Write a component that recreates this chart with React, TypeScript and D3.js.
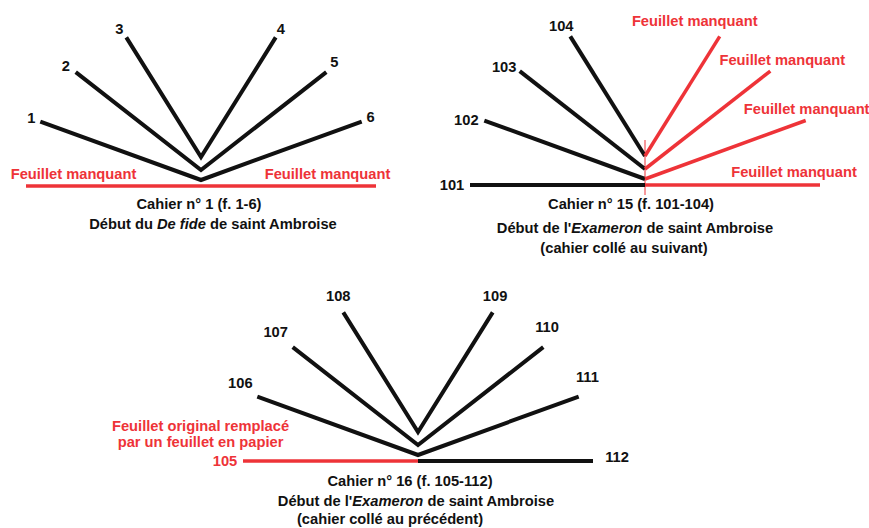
import React from 'react';
import * as d3 from 'd3';

// leaves from the outer (flat) sheet to the innermost one
const q1Left = ['Feuillet manquant', '1', '2', '3'];
const q1Right = ['Feuillet manquant', '6', '5', '4'];
const q1LeftState = ['missing', 'ok', 'ok', 'ok'];
const q1RightState = ['missing', 'ok', 'ok', 'ok'];

const q15Left = ['101', '102', '103', '104'];
const q15Right = ['Feuillet manquant', 'Feuillet manquant', 'Feuillet manquant', 'Feuillet manquant'];
const q15LeftState = ['ok', 'ok', 'ok', 'ok'];
const q15RightState = ['missing', 'missing', 'missing', 'missing'];

const q16Left = ['105', '106', '107', '108'];
const q16Right = ['112', '111', '110', '109'];
const q16LeftState = ['replaced', 'ok', 'ok', 'ok'];
const q16RightState = ['ok', 'ok', 'ok', 'ok'];

const titles = ['Cahier n° 1 (f. 1-6)', 'Cahier n° 15 (f. 101-104)', 'Cahier n° 16 (f. 105-112)'];
const works: [string, boolean][][] = [
  [['Début du ', false], ['De fide', true], [' de saint Ambroise', false]],
  [["Début de l'", false], ['Exameron', true], [' de saint Ambroise', false]],
  [["Début de l'", false], ['Exameron', true], [' de saint Ambroise', false]],
];
const notes = ['', '(cahier collé au suivant)', '(cahier collé au précédent)'];
const replacedNote = ['Feuillet original remplacé', 'par un feuillet en papier'];

// geometry of the nested sheets (degrees above horizontal, length, rise of the fold)
const levelAngle = [0, 20, 38, 58];
const levelLength = [175, 171, 159, 141];
const levelRise = [-6, 0, 10, 23];

const RED = '#ee3338';
const INK = '#111';
const FONT = "'Liberation Sans', Arial, sans-serif";
const FS = 14.7;

const quires = [
  { left: q1Left, right: q1Right, ls: q1LeftState, rs: q1RightState },
  { left: q15Left, right: q15Right, ls: q15LeftState, rs: q15RightState },
  { left: q16Left, right: q16Right, ls: q16LeftState, rs: q16RightState },
];

// layout
const origins: [number, number][] = [[201, 180], [645, 179], [418, 455]];
const nudges = [
  { left: [[47.5, -12], [-9, -4], [-10, -6], [-7, -9]], right: [[-48.5, -12], [9, -5], [8, -10], [5, -9]] },
  { left: [[-18, 0], [-18, -1], [-15.5, -4], [-9, -11]], right: [[-26, -13], [1, -12], [12, -11], [-25, -16]] },
  { left: [[-18, 0], [-17, -14], [-17, -15], [-5, -17]], right: [[24, -4], [8.7, -20], [3.7, -20], [2.4, -17]] },
];
const captionX = [[199, 213, 0], [631, 635, 624], [410, 416, 390]];
const captionY = [[209, 229, 0], [209, 233, 253], [486, 506, 524]];

const color = (s: string) => (s === 'ok' ? INK : RED);

const tip = (side: number, level: number): [number, number] => {
  const a = ((90 - levelAngle[level]) * Math.PI) / 180;
  const [x, y] = d3.pointRadial(side * a, levelLength[level]);
  return [x, y - levelRise[level]];
};

const line = d3.line();

const Quire: React.FC<{ qi: number }> = ({ qi }) => {
  const q = quires[qi];
  const [ox, oy] = origins[qi];
  const nd = nudges[qi];
  const items: React.ReactNode[] = [];
  levelAngle.forEach((_, lv) => {
    const fold: [number, number] = [0, -levelRise[lv]];
    const lt = tip(-1, lv);
    const rt = tip(1, lv);
    const lc = color(q.ls[lv]);
    const rc = color(q.rs[lv]);
    if (lc === rc) {
      items.push(
        <path key={`p${lv}`} d={line([lt, fold, rt]) || ''} fill="none" stroke={lc}
          strokeWidth={lc === RED ? 3.5 : 4} strokeLinejoin="miter" strokeMiterlimit={20} />
      );
    } else {
      items.push(
        <path key={`l${lv}`} d={line([lt, fold]) || ''} fill="none" stroke={lc} strokeWidth={lc === RED ? 3.5 : 4} />,
        <path key={`r${lv}`} d={line([fold, rt]) || ''} fill="none" stroke={rc} strokeWidth={rc === RED ? 3.5 : 4} />
      );
    }
    const lab = (txt: string, st: string, p: [number, number], n: number[], k: string) => (
      <text key={k} x={p[0] + n[0]} y={p[1] + n[1] + FS * 0.36} textAnchor="middle"
        fill={color(st)} fontFamily={FONT} fontWeight="bold" fontSize={FS}>{txt}</text>
    );
    items.push(lab(q.left[lv], q.ls[lv], lt, nd.left[lv], `tl${lv}`));
    items.push(lab(q.right[lv], q.rs[lv], rt, nd.right[lv], `tr${lv}`));
    if (q.ls[lv] === 'replaced') {
      replacedNote.forEach((t, i) => {
        items.push(
          <text key={`n${i}`} x={lt[0] + nd.left[lv][0] - 24.5} y={lt[1] - 35.5 + i * 16 + FS * 0.36}
            textAnchor="middle" fill={RED} fontFamily={FONT} fontWeight="bold" fontSize={FS}>{t}</text>
        );
      });
    }
  });
  return (
    <g transform={`translate(${ox},${oy})`}>
      {qi === 1 && <line x1={0} x2={0} y1={-39} y2={16} stroke={RED} strokeWidth={1} />}
      {items}
    </g>
  );
};

const Captions: React.FC<{ qi: number }> = ({ qi }) => (
  <g fontFamily={FONT} fontWeight="bold" fontSize={FS} fill={INK} textAnchor="middle">
    <text x={captionX[qi][0]} y={captionY[qi][0]}>{titles[qi]}</text>
    <text x={captionX[qi][1]} y={captionY[qi][1]}>
      {works[qi].map(([t, it], i) => (
        <tspan key={i} fontStyle={it ? 'italic' : 'normal'}>{t}</tspan>
      ))}
    </text>
    {notes[qi] && <text x={captionX[qi][2]} y={captionY[qi][2]}>{notes[qi]}</text>}
  </g>
);

export default function App() {
  return (
    <svg width={869} height={528} style={{ position: 'absolute', left: 0, top: 0, background: '#fff' }}>
      <rect width={869} height={528} fill="#fff" />
      {quires.map((_, qi) => (
        <g key={qi}>
          <Quire qi={qi} />
          <Captions qi={qi} />
        </g>
      ))}
    </svg>
  );
}
